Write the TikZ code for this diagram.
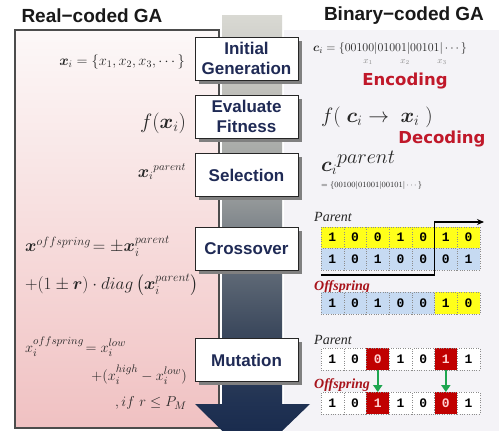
\documentclass[tikz,border=0pt]{standalone}
\usepackage{fontspec}
\usepackage{amsmath,bm,graphicx}
\usetikzlibrary{arrows.meta,shadows,calc}
\newfontfamily\hdfont{Liberation Sans}
\newfontfamily\widefont{DejaVu Sans}
\newfontfamily\celfont{Liberation Mono}
\newfontfamily\serfont{Liberation Serif}
\definecolor{navy}{HTML}{1F2A55}
\definecolor{encred}{HTML}{C0182A}
\definecolor{pinktop}{HTML}{FCF8F8}
\definecolor{pinkmid}{HTML}{F7DDDD}
\definecolor{pinkbot}{HTML}{F0C1C2}
\definecolor{cellyel}{HTML}{FFFF1A}
\definecolor{cellblu}{HTML}{C6DAF2}
\definecolor{mutred}{HTML}{C00000}
\definecolor{mutpink}{HTML}{FFD0D0}
\definecolor{arrgreen}{HTML}{1EA650}
\definecolor{rbg}{HTML}{F4F3F7}
\definecolor{offred}{HTML}{A8141C}
\definecolor{bandA}{HTML}{15264A}
\definecolor{bandB}{HTML}{1A2C4E}
\definecolor{bandC}{HTML}{203253}
\definecolor{bandD}{HTML}{3D4A5E}
\definecolor{bandE}{HTML}{6D7680}
\definecolor{bandF}{HTML}{949899}
\definecolor{bandG}{HTML}{BDBDB8}
\definecolor{bandH}{HTML}{D9D9D3}
\pgfdeclareverticalshading{bandshade}{100bp}{color(0bp)=(bandA); color(25bp)=(bandA); color(28.4bp)=(bandB); color(31.4bp)=(bandC); color(39.7bp)=(bandD); color(48.7bp)=(bandE); color(54.2bp)=(bandF); color(65.5bp)=(bandG); color(75bp)=(bandH); color(100bp)=(bandH)}
\begin{document}
\begin{tikzpicture}[x=1pt,y=-1pt,
  title/.style={font=\hdfont\bfseries\fontsize{19}{20}\selectfont, text=black!90, inner sep=0},
  stepbox/.style={draw=black!85, line width=1pt, fill=white, minimum width=103pt, minimum height=43pt,
    inner sep=0, align=center, text=navy, font=\hdfont\bfseries\fontsize{17}{20.5}\selectfont,
    drop shadow={shadow xshift=3.5pt, shadow yshift=-3.5pt, fill=black!50, opacity=1}},
  fm/.style={inner sep=0, text=black!85},
  redlab/.style={font=\widefont\bfseries\fontsize{16.5}{18}\selectfont, text=encred, inner sep=0},
  cell/.style={minimum width=22.7pt, minimum height=21.5pt, inner sep=0, draw=black!45, dotted,
    font=\celfont\bfseries\fontsize{13}{13}\selectfont},
  parlab/.style={font=\serfont\itshape\fontsize{14}{14}\selectfont, text=black!85, inner sep=0, anchor=west},
  offlab/.style={font=\serfont\bfseries\itshape\fontsize{14}{14}\selectfont, text=offred, inner sep=0, anchor=west},
  xline/.style={line width=1.2pt, -{Stealth[length=7pt,width=6pt]}},
  garrow/.style={line width=2.2pt, arrgreen, -{Triangle[length=7pt,width=9pt]}}
]
\useasboundingbox (0,0) rectangle (499,431);
\fill[white] (0,0) rectangle (499,431);
\fill[rbg] (284,30) rectangle (499,431);
% titles
\node[title] (tl) at (92,16) {Real−coded GA};
\node[title] (tr) at (404,16) {Binary−coded GA};
% left panel
\path[draw=black!70, line width=1.2pt, top color=pinktop, bottom color=pinkbot, middle color=pinkmid]
  (15,30) rectangle (219,428);
% central arrow
\path[shading=bandshade] (222,15) -- (282,15) -- (282,404) -- (310,404) -- (252,460) -- (195,404) -- (222,404) -- cycle;
% step boxes
\node[stepbox] (init) at (246.5,58.5) {Initial\\Generation};
\node[stepbox] (eval) at (246.5,116.5) {Evaluate\\Fitness};
\node[stepbox] (sel) at (246.5,175) {Selection};
\node[stepbox] (cross) at (246.5,248.5) {Crossover};
\node[stepbox] (mut) at (246.5,360) {Mutation};
% left formulas
\node[fm, font=\fontsize{14}{16}\selectfont] (f1) at (122,62) {$\bm{x}_i = \{x_1, x_2, x_3, \cdots\}$};
\node[fm, font=\fontsize{22}{24}\selectfont] (f2) at (163,123) {$f(\bm{x}_i)$};
\node[fm, font=\fontsize{16}{18}\selectfont] (f3) at (162,172) {${\bm{x}_i}^{parent}$};
\node[fm, anchor=west, font=\fontsize{17}{19}\selectfont] (f4) at (25,246) {$\bm{x}^{offspring}\!= \pm\bm{x}_i^{parent}$};
\node[fm, anchor=west, font=\fontsize{17}{19}\selectfont] (f5) at (25,285) {$+(1\pm\bm{r})\cdot diag\left(\bm{x}_i^{parent}\right)$};
\node[fm, anchor=west, font=\fontsize{15.5}{18}\selectfont] (f6) at (25,347) {$x_i^{offspring}\!= x_i^{low}$};
\node[fm, anchor=east, font=\fontsize{15.5}{18}\selectfont] (f7) at (187,375) {$+(x_i^{high} - x_i^{low})$};
\node[fm, anchor=east, font=\fontsize{15.5}{18}\selectfont] (f8) at (187,403) {$,if\ r \le P_M$};
% right formulas
\node[fm, anchor=west, font=\fontsize{13}{15}\selectfont] (g1) at (313,49) {$\bm{c}_i = \{00100|01001|00101|\cdots\}$};
\node[fm, text=black!45, font=\fontsize{9}{10}\selectfont] (g1a) at (368,62) {$x_1$};
\node[fm, text=black!45, font=\fontsize{9}{10}\selectfont] (g1b) at (405,62) {$x_2$};
\node[fm, text=black!45, font=\fontsize{9}{10}\selectfont] (g1c) at (442,62) {$x_3$};
\node[redlab] (enc) at (405,81) {Encoding};
\node[fm, anchor=west, font=\fontsize{21}{23}\selectfont] (g2) at (321,117) {$f(\;\bm{c}_i \to\; \bm{x}_i\;)$};
\node[redlab] (dec) at (442,139) {Decoding};
\node[fm, anchor=west, font=\fontsize{20}{22}\selectfont] (g3) at (321,163) {${\bm{c}_i}^{\scalebox{1.4}{$\scriptstyle parent$}}$};
\node[fm, anchor=west, font=\fontsize{8.5}{10}\selectfont] (g4) at (321,185) {$=\{00100|01001|00101|\cdots\}$};
% crossover cells
\node[parlab] (cpar) at (314,217) {Parent};
\foreach \v [count=\k] in {1,0,0,1,0,1,0}
  \node[cell, fill=cellyel] (ca\k) at ({321+(\k-0.5)*22.7},237.5) {\v};
\foreach \v [count=\k] in {1,0,1,0,0,0,1}
  \node[cell, fill=cellblu] (cb\k) at ({321+(\k-0.5)*22.7},259) {\v};
\coordinate (xs) at ([yshift=-5pt]cb1.south west);
\coordinate (xe) at (484,222);
\draw[xline] (xs) -| (ca6.west |- xe) -- (xe);
\node[offlab] (coff) at (314,287) {Offspring};
\foreach \v/\c [count=\k] in {1/cellblu,0/cellblu,1/cellblu,0/cellblu,0/cellblu,1/cellyel,0/cellyel}
  \node[cell, fill=\c] (co\k) at ({321+(\k-0.5)*22.7},303) {\v};
% mutation cells
\node[parlab] (mpar) at (314,340) {Parent};
\foreach \v/\c/\t [count=\k] in {1/white/black,0/white/black,0/mutred/mutpink,1/white/black,0/white/black,1/mutred/mutpink,1/white/black}
  \node[cell, fill=\c, text=\t] (mp\k) at ({321+(\k-0.5)*22.7},359) {\v};
\node[offlab] (moff) at (314,385) {Offspring};
\foreach \v/\c/\t [count=\k] in {1/white/black,0/white/black,1/mutred/mutpink,1/white/black,0/white/black,0/mutred/mutpink,1/white/black}
  \node[cell, fill=\c, text=\t] (mo\k) at ({321+(\k-0.5)*22.7},403) {\v};
\draw[garrow] (mp3.south) -- (mo3.north);
\draw[garrow] (mp6.south) -- (mo6.north);
\end{tikzpicture}
\end{document}
